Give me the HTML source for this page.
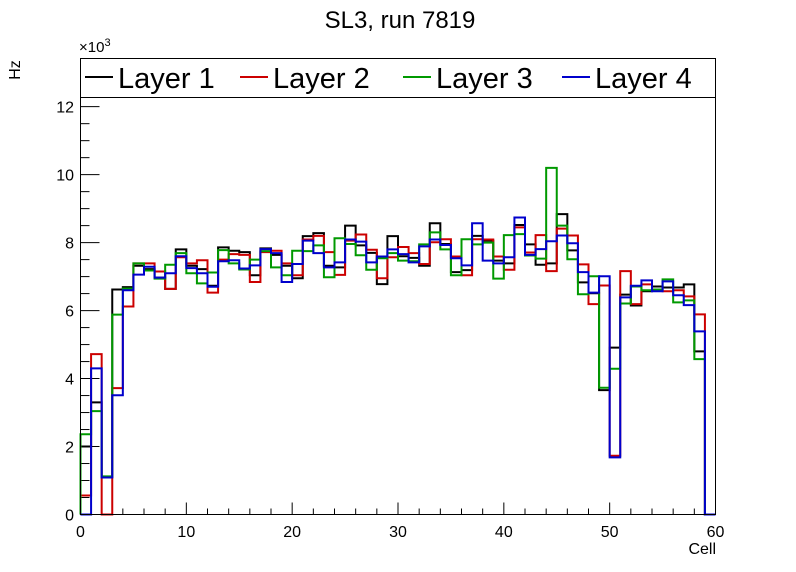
<!DOCTYPE html>
<html><head><meta charset="utf-8"><style>
body{margin:0;background:#fff;}
svg{display:block;font-family:"Liberation Sans",sans-serif;}
</style></head><body>
<svg id="c" width="796" height="572">
<rect width="796" height="572" fill="#fff"/>
<text x="400" y="28" text-anchor="middle" font-size="24">SL3, run 7819</text>
<text x="20" y="70" font-size="16" transform="rotate(-90 20 70)" text-anchor="middle">Hz</text>
<text x="79" y="52" font-size="15">×10<tspan dy="-6" font-size="11">3</tspan></text>
<text x="716" y="554" font-size="16" text-anchor="end">Cell</text>
<g id="legend">
<rect x="80.5" y="58.5" width="635" height="39" fill="#fff" stroke="#000"/>
</g>
<g id="axes"></g>
<g id="series"></g>
<rect x="80.5" y="97.5" width="635" height="417" fill="none" stroke="#000"/>
</svg>
<script>
const cells = Array.from({length:60},(_, i)=>i);
const seriesNames = ["Layer 1","Layer 2","Layer 3","Layer 4"];
const seriesColors = ["#000000","#cc0000","#009900","#0000cc"];
const layer1 = [2.0,3.3,1.1,6.62,6.69,7.32,7.22,6.97,6.64,7.8,7.32,7.22,6.73,7.86,7.76,7.72,7.04,7.83,7.64,7.32,6.95,8.19,8.28,7.32,7.27,8.5,7.92,7.7,6.78,8.19,7.6,7.55,7.32,8.57,7.96,7.13,7.19,8.2,8.06,7.47,7.39,8.52,7.95,7.35,7.39,8.84,7.77,6.83,6.51,3.66,4.91,6.47,6.15,6.57,6.71,6.68,6.68,6.77,4.8,0];
const layer2 = [0.56,4.72,0,3.72,6.12,7.39,7.39,7.15,6.64,7.57,7.39,7.48,6.53,7.5,7.66,7.64,6.84,7.72,7.76,7.39,7.04,8.09,8.2,7.72,7.05,8.06,8.24,7.79,6.95,7.57,7.87,7.69,7.37,8.01,8.1,7.59,7.04,8.1,8.09,7.59,7.2,8.45,7.71,8.22,7.16,8.41,8.21,7.36,6.19,6.74,1.73,7.16,6.19,6.77,6.6,6.57,6.6,6.42,5.89,0];
const layer3 = [2.36,3.04,1.12,5.88,6.65,7.39,7.18,6.94,7.35,7.69,7.1,6.8,7.12,7.78,7.39,7.21,7.5,7.75,7.27,7.04,7.76,7.75,7.92,6.98,8.13,7.96,7.63,7.2,7.54,7.69,7.47,7.45,7.95,8.3,7.8,7.04,8.1,7.95,8.0,6.94,8.22,8.25,7.62,7.53,10.2,8.5,7.51,6.48,7.01,3.73,4.29,6.21,6.71,6.6,6.62,6.92,6.24,6.3,4.57,0];
const layer4 = [0,4.3,1.09,3.51,6.6,7.06,7.29,6.97,7.1,7.6,7.25,7.1,6.7,7.45,7.48,7.24,7.33,7.81,7.69,6.84,7.37,8.06,7.69,7.27,7.42,8.09,8.03,7.42,7.59,7.8,7.66,7.42,7.89,8.09,7.93,7.54,7.33,8.57,7.47,7.39,7.57,8.74,7.64,7.81,8.04,8.21,7.98,7.13,6.53,7.01,1.68,6.39,6.73,6.89,6.57,6.86,6.45,6.16,5.39,0];
const allSeries = [layer1,layer2,layer3,layer4];
const yTicks = [0,2,4,6,8,10,12];
const xTicks = [0,10,20,30,40,50,60];

const X0=80.5,X1=715.5,Y0=514.5,YT=97.5,XMAX=60,YMAX=12.27;
const sx=v=>X0+(X1-X0)*v/XMAX;
const sy=v=>Y0-(Y0-YT)*v/YMAX;
const NS="http://www.w3.org/2000/svg";
function mk(tag,attrs,parent){const e=document.createElementNS(NS,tag);for(const k in attrs)e.setAttribute(k,attrs[k]);parent.appendChild(e);return e;}
const axes=document.getElementById('axes');
for(let v=0;v<=12.0001;v+=0.5){
  const major=Math.abs(v/2-Math.round(v/2))<1e-6;
  const t=mk('line',{x1:X0,x2:X0+(major?19:9),y1:sy(v),y2:sy(v),stroke:'#000'},axes);
  
  
}
yTicks.forEach(v=>{
  const t=mk('text',{x:74,y:sy(v)+6,'text-anchor':'end','font-size':16},axes);
  t.textContent=v;
  
  
});
for(let v=0;v<=60;v+=2){
  const major=v%10===0;
  const t=mk('line',{x1:sx(v),x2:sx(v),y1:Y0,y2:Y0-(major?12:6),stroke:'#000'},axes);
  
  
}
xTicks.forEach(v=>{
  const t=mk('text',{x:sx(v),y:537,'text-anchor':'middle','font-size':16},axes);
  t.textContent=v;
  
  
});
const sg=document.getElementById('series');
allSeries.forEach((vals,si)=>{
  let d=`M${sx(0)},${sy(0)}`;
  cells.forEach((c,i)=>{d+=` L${sx(c)},${sy(vals[i])} L${sx(c+1)},${sy(vals[i])}`;});
  d+=` L${sx(60)},${sy(0)}`;
  const p=mk('path',{d:d,fill:'none',stroke:seriesColors[si],'stroke-width':2},sg);
  
  
});
const lg=document.getElementById('legend');
const lx=[85,240,403,562];
seriesNames.forEach((n,i)=>{
  const l=mk('line',{x1:lx[i],x2:lx[i]+28,y1:77,y2:77,stroke:seriesColors[i],'stroke-width':2},lg);
  
  
  const t=mk('text',{x:lx[i]+33,y:88,'font-size':29},lg);
  t.textContent=n;
  
  
});
</script>
</body></html>
